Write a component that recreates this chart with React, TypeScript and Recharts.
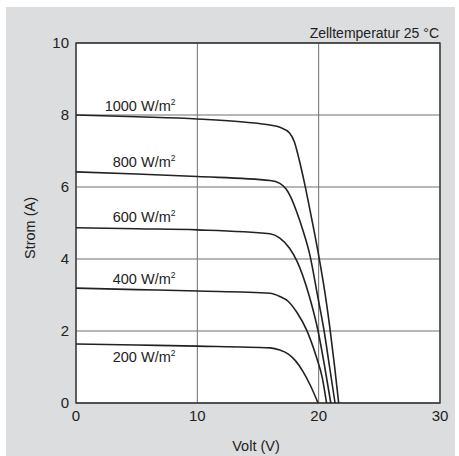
import {
    LineChart,
    Line,
    XAxis,
    YAxis,
    CartesianGrid,
    ReferenceArea,
    ReferenceDot,
} from "recharts";

// Volt / Ampere readings per irradiance level
const volts1000 = [0, 5, 10, 14, 16, 16.8, 17.6, 18.0, 18.4, 18.85, 19.26, 19.67, 20.08, 20.5, 20.9, 21.3, 21.65];
const amps1000 = [8.0, 7.95, 7.89, 7.8, 7.72, 7.66, 7.5, 7.25, 6.75, 6.08, 5.4, 4.7, 3.95, 3.1, 2.15, 1.05, 0];

const volts800 = [0, 5, 10, 16, 16.8, 17.3, 17.7, 18.2, 18.7, 19.25, 19.9, 20.45, 20.9, 21.35];
const amps800 = [6.42, 6.36, 6.29, 6.18, 6.1, 5.95, 5.72, 5.3, 4.8, 4.15, 3.0, 2.0, 1.0, 0];

const volts600 = [0, 5, 10, 16, 16.8, 17.6, 18.2, 19.2, 19.95, 20.5, 21.0];
const amps600 = [4.87, 4.84, 4.81, 4.7, 4.58, 4.3, 3.95, 3.0, 2.0, 1.0, 0];

const volts400 = [0, 5, 10, 16, 16.8, 17.5, 18.2, 19.0, 19.8, 20.3, 20.65];
const amps400 = [3.19, 3.15, 3.11, 3.05, 2.96, 2.82, 2.52, 2.03, 1.29, 0.7, 0];

const volts200 = [0, 5, 10, 16, 16.8, 17.5, 18.1, 18.7, 19.3, 19.95];
const amps200 = [1.64, 1.61, 1.58, 1.53, 1.47, 1.36, 1.17, 0.88, 0.5, 0];

const levels = ["1000", "800", "600", "400", "200"];
const xTicks = [0, 10, 20, 30];
const yTicks = [0, 2, 4, 6, 8, 10];

const zip = (v: number[], a: number[]) => v.map((x, i) => ({ v: x, i: a[i] }));

const series = [
    zip(volts1000, amps1000),
    zip(volts800, amps800),
    zip(volts600, amps600),
    zip(volts400, amps400),
    zip(volts200, amps200),
];

// label anchor (right edge, centre) in data units
const labelX = 8.2;
const labelY = [8.25, 6.69, 5.16, 3.44, 1.27];

const FONT = '"Liberation Sans", Arial, Helvetica, sans-serif';
const INK = "#222";

const CurveLabel = ({ viewBox, text }: any) => (
    <text x={viewBox.x} y={viewBox.y + 5} textAnchor="end" fill={INK} fontSize={14.5} fontFamily={FONT}>
        {text + " W/m"}
        <tspan dy={-6} fontSize={8.5}>2</tspan>
    </text>
);

export default function App() {
    return (
        <div style={{ position: "absolute", left: 0, top: 0, width: 459, height: 456, background: "#fff" }}>
            <div style={{ position: "absolute", left: 6, top: 7, width: 449, height: 449, background: "#dcdddf" }} />
            <div style={{ position: "absolute", left: 0, top: 0 }}>
                <LineChart width={459} height={456} margin={{ top: 43, right: 19, bottom: 23, left: 16 }}>
                    <CartesianGrid stroke="#6e6e6e" strokeWidth={1} fill="#fff" />
                    <XAxis
                        dataKey="v"
                        type="number"
                        domain={[0, 30]}
                        ticks={xTicks}
                        allowDataOverflow
                        height={30}
                        tickLine={false}
                        axisLine={false}
                        tickSize={0}
                        tickMargin={7}
                        tick={{ fill: INK, fontSize: 15, fontFamily: FONT }}
                        label={{
                            content: ({ viewBox }: any) => (
                                <text x={viewBox.x + viewBox.width / 2 - 2} y={451} textAnchor="middle" fill={INK} fontSize={14.5} fontFamily={FONT}>
                                    Volt (V)
                                </text>
                            ),
                        }}
                    />
                    <YAxis
                        type="number"
                        domain={[0, 10]}
                        ticks={yTicks}
                        width={60}
                        tickLine={false}
                        axisLine={false}
                        tickSize={0}
                        tickMargin={7}
                        tick={{ fill: INK, fontSize: 15, fontFamily: FONT }}
                        label={{
                            content: () => (
                                <text x={35} y={228} transform="rotate(-90 35 228)" textAnchor="middle" fill={INK} fontSize={14.5} fontFamily={FONT}>
                                    Strom (A)
                                </text>
                            ),
                        }}
                    />
                    <ReferenceArea x1={0} x2={30} y1={0} y2={10} fill="none" stroke="#333" strokeWidth={1.3} ifOverflow="visible" />
                    {series.map((d, k) => (
                        <Line
                            key={levels[k]}
                            data={d}
                            dataKey="i"
                            type="monotone"
                            stroke={INK}
                            strokeWidth={1.6}
                            dot={false}
                            activeDot={false}
                            isAnimationActive={false}
                        />
                    ))}
                    {levels.map((t, k) => (
                        <ReferenceDot
                            key={"l" + t}
                            x={labelX}
                            y={labelY[k]}
                            r={0}
                            fill="none"
                            stroke="none"
                            label={{ content: (p: any) => <CurveLabel {...p} text={t} /> }}
                        />
                    ))}
                    <ReferenceDot
                        x={30}
                        y={10}
                        r={0}
                        fill="none"
                        stroke="none"
                        ifOverflow="visible"
                        label={{
                            content: ({ viewBox }: any) => (
                                <text x={viewBox.x - 1} y={viewBox.y - 5} textAnchor="end" fill={INK} fontSize={14} fontFamily={FONT}>
                                    Zelltemperatur 25 °C
                                </text>
                            ),
                        }}
                    />
                </LineChart>
            </div>
        </div>
    );
}
